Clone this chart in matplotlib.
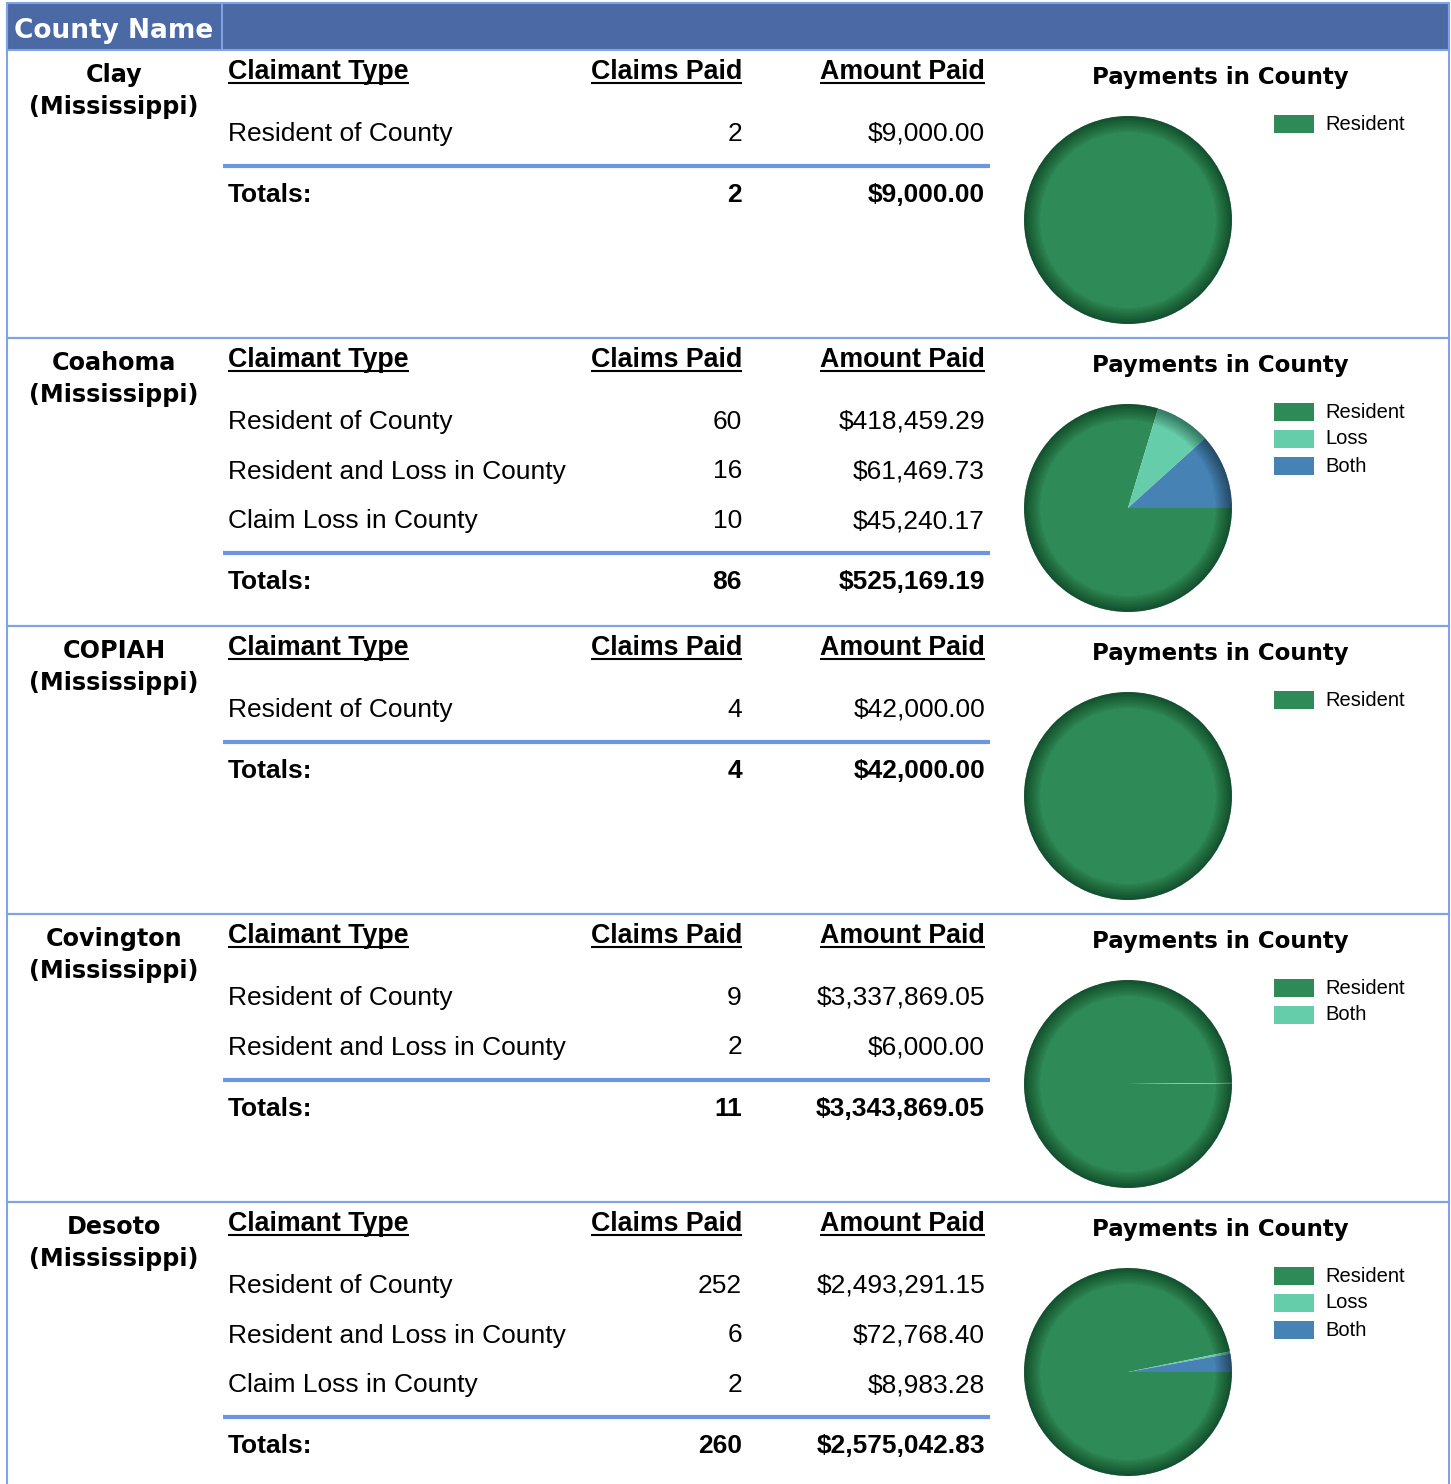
import matplotlib.pyplot as plt
from matplotlib.patches import Rectangle, Wedge

# ---- data ----
counties = ['Clay', 'Coahoma', 'COPIAH', 'Covington', 'Desoto']
state_label = '(Mississippi)'

claimant_types = [
    ['Resident of County'],
    ['Resident of County', 'Resident and Loss in County', 'Claim Loss in County'],
    ['Resident of County'],
    ['Resident of County', 'Resident and Loss in County'],
    ['Resident of County', 'Resident and Loss in County', 'Claim Loss in County'],
]
claims_paid = [
    [2],
    [60, 16, 10],
    [4],
    [9, 2],
    [252, 6, 2],
]
amount_paid = [
    [9000.00],
    [418459.29, 61469.73, 45240.17],
    [42000.00],
    [3337869.05, 6000.00],
    [2493291.15, 72768.40, 8983.28],
]
# pie slices (Resident, Loss, Both) as shown in each legend
pie_labels = [
    ['Resident'],
    ['Resident', 'Loss', 'Both'],
    ['Resident'],
    ['Resident', 'Both'],
    ['Resident', 'Loss', 'Both'],
]
pie_values = [
    [9000.00],
    [418459.29, 45240.17, 61469.73],
    [42000.00],
    [3337869.05, 6000.00],
    [2493291.15, 8983.28, 72768.40],
]
pie_colors = ['#2E8B57', '#66CDAA', '#4682B4']

# ---- layout (pixels) ----
W, H = 1451, 1484
HEAD_TOP, HEAD_BOT = 3, 50
SEC_H = 288
X_LEFT, X_RIGHT = 7, 1449
GRID = '#7FA3E3'
RULE = '#6A96E4'
HEAD_BG = '#4A69A5'

fig = plt.figure(figsize=(W / 100, H / 100), dpi=100)
ax = fig.add_axes([0, 0, 1, 1])
ax.set_xlim(0, W)
ax.set_ylim(H, 0)
ax.axis('off')

SANS = 'Liberation Sans'
TITLE = 'DejaVu Sans'

# header band
ax.add_patch(Rectangle((X_LEFT, HEAD_TOP), X_RIGHT - X_LEFT, HEAD_BOT - HEAD_TOP,
                       facecolor=HEAD_BG, edgecolor=GRID, lw=1.5))
ax.plot([222, 222], [HEAD_TOP, HEAD_BOT], color=GRID, lw=1.5)
ax.text(114, 38, 'County Name', color='white', fontsize=19, fontweight='bold',
        family=TITLE, ha='center', va='baseline')
ax.plot([X_LEFT, X_LEFT], [HEAD_TOP, H], color=GRID, lw=1.5)
ax.plot([X_RIGHT, X_RIGHT], [HEAD_TOP, H], color=GRID, lw=1.5)

renderer = fig.canvas.get_renderer()


def underlined(x, y, s, ha):
    t = ax.text(x, y, s, fontsize=19.3, fontweight='bold', family=SANS, ha=ha, va='baseline')
    bb = t.get_window_extent(renderer)
    ax.plot([bb.x0, bb.x1], [y + 4, y + 4], color='black', lw=1.5, solid_capstyle='butt')


for i, county in enumerate(counties):
    top = HEAD_BOT + i * SEC_H
    if i > 0:
        ax.plot([X_LEFT, X_RIGHT], [top, top], color=GRID, lw=1.6)

    # county name
    ax.text(114, top + 32, county, fontsize=17.2, fontweight='bold', family=TITLE,
            ha='center', va='baseline')
    ax.text(114, top + 64, state_label, fontsize=17.2, fontweight='bold', family=TITLE,
            ha='center', va='baseline')

    # table
    underlined(228, top + 29, 'Claimant Type', 'left')
    underlined(742, top + 29, 'Claims Paid', 'right')
    underlined(985, top + 29, 'Amount Paid', 'right')

    rows = claimant_types[i]
    for j, name in enumerate(rows):
        yb = top + 91 + j * 49.5
        ax.text(228, yb, name, fontsize=19, family=SANS, va='baseline')
        ax.text(742, yb, f'{claims_paid[i][j]}', fontsize=19, family=SANS,
                ha='right', va='baseline')
        ax.text(985, yb, f'${amount_paid[i][j]:,.2f}', fontsize=19, family=SANS,
                ha='right', va='baseline')
    line_y = top + 82 + (len(rows) - 1) * 49.5 + 34
    ax.plot([223, 990], [line_y, line_y], color=RULE, lw=3, solid_capstyle='butt')
    ty = line_y + 36
    ax.text(228, ty, 'Totals:', fontsize=19, fontweight='bold', family=SANS, va='baseline')
    ax.text(742, ty, f'{sum(claims_paid[i])}', fontsize=19, fontweight='bold', family=SANS,
            ha='right', va='baseline')
    ax.text(985, ty, f'${sum(amount_paid[i]):,.2f}', fontsize=19, fontweight='bold',
            family=SANS, ha='right', va='baseline')

    # chart title + legend
    ax.text(1220, top + 34, 'Payments in County', fontsize=16.5, fontweight='bold',
            family=TITLE, ha='center', va='baseline')
    for k, lab in enumerate(pie_labels[i]):
        ly = top + 74 + k * 27
        ax.add_patch(Rectangle((1274, ly - 9), 40, 18, facecolor=pie_colors[k], lw=0))
        ax.text(1325, ly, lab, fontsize=14.5, family=SANS, va='center')

    # pie
    cx, cy, r = 1128, top + 170, 105
    pax = fig.add_axes([(cx - r) / W, (H - cy - r) / H, 2 * r / W, 2 * r / H])
    pax.pie(pie_values[i], colors=pie_colors[:len(pie_values[i])], startangle=0,
            counterclock=False, radius=1, wedgeprops=dict(linewidth=0))
    # soft darker rim shading
    n = 28
    for s in range(n):
        r_in = 0.84 + 0.16 * s / n
        pax.add_patch(Wedge((0, 0), 1.0, 0, 360, width=1.0 - r_in,
                            facecolor='black', alpha=0.016, lw=0))
    pax.set_xlim(-1.01, 1.01)
    pax.set_ylim(-1.01, 1.01)
    pax.axis('off')

fig.savefig('out.png', dpi=100)
